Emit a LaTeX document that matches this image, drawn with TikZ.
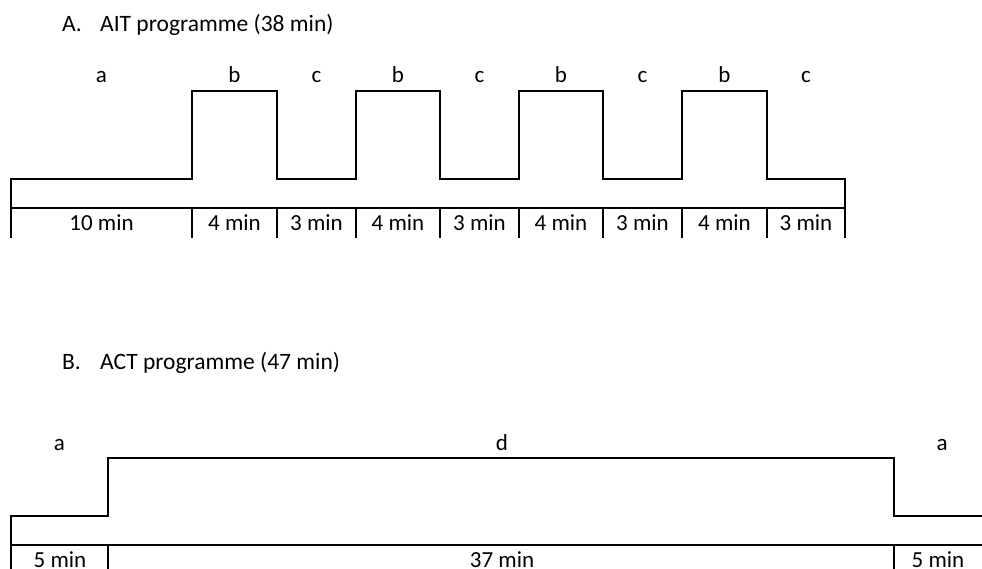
\documentclass[tikz,border=0pt]{standalone}
\usepackage{fontspec}
\setmainfont{Carlito}
\begin{document}
\begin{tikzpicture}[x=1pt,y=-1pt,
  wave/.style={line width=1.7pt,line join=miter},
  axisline/.style={line width=1.7pt},
  lbl/.style={font=\fontsize{23}{27}\selectfont,anchor=base,inner sep=0pt},
  ttl/.style={font=\fontsize{23.5}{28}\selectfont,anchor=base west,inner sep=0pt}]
\useasboundingbox (0,0) rectangle (982,569);
% ---------- Panel A ----------
\node[ttl] (tAn) at (62,32) {A.};
\node[ttl] (tA) at (100,32) {AIT programme (38 min)};
\coordinate (A0) at (11,179);
\coordinate (A0b) at (11,238);
\foreach \i/\x in {1/192,2/277,3/356,4/440,5/519,6/603,7/682,8/767}{
  \coordinate (Ahi\i) at (\x,91);
  \coordinate (Alo\i) at (\x,179);
  \coordinate (Aax\i) at (\x,208);
  \coordinate (Atk\i) at (\x,238);
}
\coordinate (Aend) at (845,179);
\coordinate (Aendb) at (845,238);
\coordinate (AaxL) at (11,208);
\coordinate (AaxR) at (845,208);
\draw[wave] (A0b) -- (A0) -- (Alo1) -- (Ahi1) -- (Ahi2) -- (Alo2) -- (Alo3) -- (Ahi3) -- (Ahi4) -- (Alo4)
  -- (Alo5) -- (Ahi5) -- (Ahi6) -- (Alo6) -- (Alo7) -- (Ahi7) -- (Ahi8) -- (Alo8) -- (Aend) -- (Aendb);
\draw[axisline] (AaxL) -- (AaxR);
\foreach \i in {1,...,8}{ \draw[axisline] (Aax\i) -- (Atk\i); }
\foreach \n/\x/\t in {la/101.5/a,lb1/234.5/b,lc1/316.5/c,lb2/398/b,lc2/479.5/c,lb3/561/b,lc3/642.5/c,lb4/724.5/b,lc4/806/c}{
  \node[lbl] (A\n) at (\x,83) {\t};
}
\foreach \n/\x/\t in {d0/101.5/10 min,d1/234.5/4 min,d2/316.5/3 min,d3/398/4 min,d4/479.5/3 min,d5/561/4 min,d6/642.5/3 min,d7/724.5/4 min,d8/806/3 min}{
  \node[lbl] (A\n) at (\x,231) {\t};
}
% ---------- Panel B ----------
\node[ttl] (tBn) at (62,369) {B.};
\node[ttl] (tB) at (100,369) {ACT programme (47 min)};
\coordinate (B0b) at (11,569);
\coordinate (B0) at (11,516);
\coordinate (Blo1) at (108,516);
\coordinate (Bhi1) at (108,458);
\coordinate (Bhi2) at (894,458);
\coordinate (Blo2) at (894,516);
\coordinate (Bend) at (982,516);
\coordinate (BaxL) at (11,545);
\coordinate (BaxR) at (982,545);
\coordinate (Bax1) at (108,545);
\coordinate (Btk1) at (108,569);
\coordinate (Bax2) at (894,545);
\coordinate (Btk2) at (894,569);
\draw[wave] (B0b) -- (B0) -- (Blo1) -- (Bhi1) -- (Bhi2) -- (Blo2) -- (Bend);
\draw[axisline] (BaxL) -- (BaxR);
\draw[axisline] (Bax1) -- (Btk1);
\draw[axisline] (Bax2) -- (Btk2);
\node[lbl] (Bla1) at (59.5,450) {a};
\node[lbl] (Bld) at (502,450) {d};
\node[lbl] (Bla2) at (942,450) {a};
\node[lbl] (Bd1) at (60,567) {5 min};
\node[lbl] (Bd2) at (502,567) {37 min};
\node[lbl] (Bd3) at (938,567) {5 min};
\end{tikzpicture}
\end{document}
